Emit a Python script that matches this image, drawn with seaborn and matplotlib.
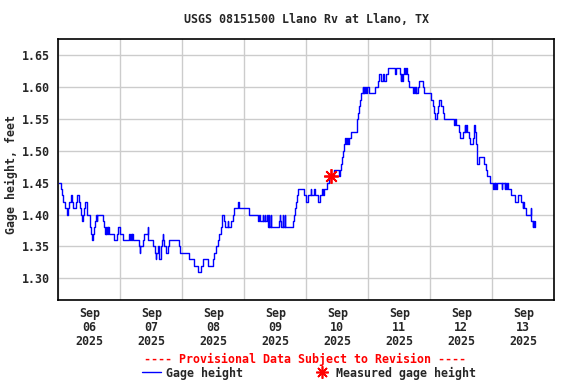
import matplotlib
matplotlib.use("Agg")
import numpy as np
import pandas as pd
import matplotlib.pyplot as plt
import matplotlib.dates as mdates
from matplotlib.ticker import FormatStrFormatter
from matplotlib.lines import Line2D
import seaborn as sns

# ---- data (hours after 2025-09-06 00:00, gage height in feet) ----
start = "2025-09-06 00:00"
hours = [
    0.25, 0.9, 1.3, 1.7, 2.5, 3.2, 3.9, 4.0, 4.8, 5.3, 5.6, 7.0, 7.1, 8.0, 8.3, 8.8, 9.2, 9.4,
    9.9, 10.5, 11.0, 11.1, 12.3, 12.4, 12.8, 13.2, 13.6, 14.0, 14.2, 14.6, 15.0, 15.1, 17.3,
    17.6, 18.0, 18.3, 18.5, 18.8, 19.1, 19.4, 19.7, 21.7, 22.7, 23.3, 23.9,
    24.9, 27.5, 27.8, 28.1, 28.4, 28.6, 28.8, 31.1, 31.5, 31.7, 32.6, 33.3, 34.6, 34.8, 36.5,
    37.3, 37.8, 38.0, 38.5, 39.1, 39.7, 40.1, 40.4, 40.7, 40.8, 41.5, 42.3, 43.0, 46.8, 47.2,
    50.7, 52.6, 53.9, 55.3, 55.9, 57.8, 60.0, 60.4, 61.0, 61.7, 62.3, 63.0, 63.2, 63.4, 64.3,
    64.7, 65.5, 65.8, 66.8, 67.5, 68.2, 69.4, 69.8,
    74.0, 77.2, 77.8, 78.0, 79.1, 79.4, 80.0, 80.2, 80.6, 81.0, 81.4, 81.6, 82.3, 82.5, 85.3,
    85.8, 86.0, 86.2, 86.8, 87.0, 87.6, 87.8, 90.7, 91.4, 91.8, 92.0, 92.3, 92.9, 95.2,
    95.9, 96.5, 97.8, 98.0, 99.1, 99.3, 100.4, 101.3, 102.1, 102.4, 102.7, 103.9, 104.7, 106.8,
    108.5, 109.0, 109.4, 109.9, 110.3, 110.7, 111.1, 111.4, 111.8, 112.2, 112.5, 113.3, 115.5,
    115.7, 115.9, 116.3, 116.7, 117.1, 117.8, 118.0, 118.3, 118.5, 118.8, 119.1, 119.4,
    120.4, 122.7, 123.6, 124.3, 124.9, 125.8, 126.0, 126.8, 127.5, 130.4, 130.7, 132.3, 132.5,
    132.8, 133.1, 133.4, 134.0, 134.3, 134.6, 135.0, 135.2, 135.9, 137.4, 137.7, 138.0, 138.3,
    138.6, 139.1, 139.8, 141.3, 141.7,
    144.3, 144.9, 145.6, 145.9, 146.5, 147.0, 147.5, 148.2, 148.8, 149.4, 153.3, 153.6, 153.9,
    155.0, 155.5, 156.5, 157.4, 157.6, 157.8, 158.3, 159.1, 159.4, 160.4, 160.9, 161.1, 161.4,
    161.6, 161.9, 162.9, 164.8, 165.5, 165.9, 167.0, 168.3, 168.6, 168.9, 169.2, 169.6, 170.0,
    171.7, 171.9, 172.9, 173.1, 173.4, 173.7, 173.9, 175.2, 176.8, 178.1, 179.0, 179.7, 180.0,
    180.3, 181.2, 182.9, 183.1, 183.6, 183.8, 184.3, 184.5, 184.7,
]
gage_ft = [
    1.45, 1.44, 1.43, 1.42, 1.41, 1.40, 1.41, 1.42, 1.43, 1.42, 1.41, 1.42, 1.43, 1.42, 1.41, 1.40, 1.39, 1.40,
    1.41, 1.42, 1.41, 1.40, 1.39, 1.38, 1.37, 1.36, 1.37, 1.38, 1.39, 1.40, 1.39, 1.40, 1.39,
    1.38, 1.37, 1.38, 1.37, 1.38, 1.37, 1.38, 1.37, 1.36, 1.37, 1.38, 1.37,
    1.36, 1.37, 1.36, 1.37, 1.36, 1.37, 1.36, 1.35, 1.34, 1.35, 1.36, 1.37, 1.38, 1.36, 1.35,
    1.34, 1.33, 1.34, 1.35, 1.33, 1.35, 1.36, 1.37, 1.36, 1.35, 1.34, 1.35, 1.36, 1.35, 1.34,
    1.33, 1.32, 1.31, 1.32, 1.33, 1.32, 1.33, 1.34, 1.35, 1.36, 1.37, 1.38, 1.39, 1.40, 1.39,
    1.38, 1.39, 1.38, 1.39, 1.40, 1.41, 1.42, 1.41,
    1.40, 1.39, 1.40, 1.39, 1.40, 1.39, 1.40, 1.39, 1.40, 1.38, 1.40, 1.38, 1.40, 1.38, 1.39,
    1.40, 1.39, 1.38, 1.40, 1.38, 1.40, 1.38, 1.39, 1.40, 1.41, 1.42, 1.43, 1.44, 1.43,
    1.42, 1.43, 1.44, 1.43, 1.44, 1.43, 1.42, 1.43, 1.44, 1.43, 1.44, 1.45, 1.46, 1.47,
    1.46, 1.47, 1.48, 1.49, 1.50, 1.51, 1.52, 1.51, 1.52, 1.51, 1.52, 1.53, 1.54,
    1.55, 1.56, 1.57, 1.58, 1.59, 1.60, 1.59, 1.60, 1.59, 1.60, 1.59, 1.60,
    1.59, 1.60, 1.61, 1.62, 1.61, 1.62, 1.61, 1.62, 1.63, 1.62, 1.63, 1.62, 1.61,
    1.62, 1.61, 1.62, 1.63, 1.62, 1.63, 1.62, 1.61, 1.60, 1.59, 1.60, 1.59, 1.60,
    1.59, 1.60, 1.61, 1.60, 1.59,
    1.58, 1.57, 1.56, 1.55, 1.56, 1.57, 1.58, 1.57, 1.56, 1.55, 1.54, 1.55, 1.54,
    1.53, 1.52, 1.53, 1.54, 1.53, 1.54, 1.53, 1.52, 1.51, 1.52, 1.53, 1.54, 1.53,
    1.51, 1.48, 1.49, 1.48, 1.47, 1.46, 1.45, 1.44, 1.45, 1.44, 1.45, 1.44, 1.45,
    1.44, 1.45, 1.44, 1.45, 1.44, 1.45, 1.44, 1.43, 1.42, 1.43, 1.42, 1.41, 1.42,
    1.41, 1.40, 1.41, 1.39, 1.38, 1.39, 1.38, 1.39, 1.39,
]
meas_hours = [105.4]
meas_ft = [1.46]

title = "USGS 08151500 Llano Rv at Llano, TX"
ylabel = "Gage height, feet"
yticks = [1.30, 1.35, 1.40, 1.45, 1.50, 1.55, 1.60, 1.65]
provisional = "---- Provisional Data Subject to Revision ----"
legend_labels = ["Gage height", "Measured gage height"]

# ---- style ----
sns.set_style("white")
FS = 8.4
plt.rcParams["font.family"] = ["DejaVu Sans Mono"]
plt.rcParams["font.weight"] = "bold"
plt.rcParams["font.size"] = FS
plt.rcParams["axes.titlesize"] = FS
plt.rcParams["axes.labelsize"] = FS
plt.rcParams["legend.fontsize"] = FS
plt.rcParams["xtick.labelsize"] = FS
plt.rcParams["ytick.labelsize"] = FS
plt.rcParams["axes.titleweight"] = "bold"
plt.rcParams["axes.labelweight"] = "bold"

W, H = 576, 384
fig = plt.figure(figsize=(W / 100, H / 100), dpi=100)
ax = fig.add_axes([58.3 / W, 1 - 300 / H, 496 / W, (300 - 39.3) / H])

t0 = pd.Timestamp(start)
df = pd.DataFrame({"time": t0 + pd.to_timedelta(hours, unit="h"), "gage": gage_ft})
sns.lineplot(data=df, x="time", y="gage", ax=ax, drawstyle="steps-post",
             color="#0000ff", linewidth=1.0, legend=False, zorder=3)

mt = t0 + pd.to_timedelta(meas_hours, unit="h")
ax.plot(mt, meas_ft, linestyle="none", marker=(8, 2, 0), markersize=10.5,
        markeredgewidth=1.3, color="#ff0000", zorder=5)

ax.set_xlim(t0, t0 + pd.Timedelta(days=8))
ax.set_ylim(1.266, 1.675)
ax.set_yticks(yticks)
ax.yaxis.set_major_formatter(FormatStrFormatter("%.2f"))
ax.xaxis.set_major_locator(mdates.HourLocator(byhour=[12]))
ax.xaxis.set_minor_locator(mdates.DayLocator())
ax.xaxis.set_major_formatter(mdates.DateFormatter("%b\n%d\n%Y"))

ax.grid(False)
ax.grid(True, which="minor", axis="x", color="#cccccc", linewidth=1.0, zorder=0)
ax.grid(True, which="major", axis="y", color="#cccccc", linewidth=1.0, zorder=0)
ax.tick_params(which="both", length=0)
ax.tick_params(axis="y", pad=6)
ax.tick_params(axis="x", pad=5)
for sp in ax.spines.values():
    sp.set_visible(True)
    sp.set_color("black")
    sp.set_linewidth(1.2)

ax.set_xlabel("")
ax.set_ylabel(ylabel)
ax.yaxis.set_label_coords(-0.082, 0.48)
ax.set_title(title, pad=12, fontsize=FS)

fig.text(305.5 / W, 1 - 359 / H, provisional, color="#ff0000", ha="center", va="center")
handles = [Line2D([], [], color="#0000ff", lw=1.0),
           Line2D([], [], ls="none", marker=(8, 2, 0), color="#ff0000", markersize=9, mew=1.2)]
fig.legend(handles, legend_labels, loc="center", bbox_to_anchor=(309 / W, 1 - 373 / H),
           ncol=2, frameon=False, handlelength=1.6, handletextpad=0.4, columnspacing=6.0,
           borderpad=0, borderaxespad=0)

fig.canvas.draw()
for lbl in ax.get_xticklabels():
    lbl.set_linespacing(1.1)

fig.savefig("out.png", dpi=100)
